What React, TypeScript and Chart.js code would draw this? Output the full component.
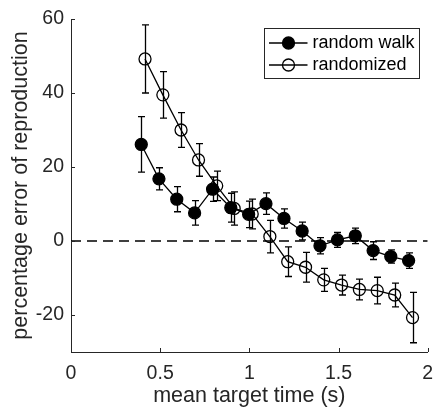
import React, { useEffect, useRef } from "react";
import { Chart, registerables } from "chart.js";

Chart.register(...registerables);

// ---- data ----
const walkX = [0.394, 0.493, 0.593, 0.693, 0.794, 0.896, 0.996, 1.093, 1.194, 1.296, 1.396, 1.494, 1.594, 1.694, 1.793, 1.893];
const walkY = [26.1, 16.8, 11.3, 7.6, 14.0, 9.0, 7.2, 10.1, 6.1, 2.7, -1.3, 0.3, 1.4, -2.6, -4.2, -5.3];
const walkErr = [7.5, 3.0, 3.4, 3.3, 3.3, 3.9, 3.6, 2.9, 2.6, 2.4, 2.2, 2.0, 2.1, 2.4, 1.8, 2.1];

const randX = [0.415, 0.515, 0.617, 0.715, 0.817, 0.915, 1.016, 1.115, 1.215, 1.315, 1.417, 1.517, 1.617, 1.717, 1.815, 1.915];
const randY = [49.2, 39.5, 30.0, 21.9, 14.9, 8.8, 7.3, 1.2, -5.6, -7.1, -10.5, -11.9, -13.1, -13.4, -14.6, -20.7];
const randErr = [9.2, 6.3, 4.7, 4.4, 4.0, 4.5, 4.0, 4.4, 4.0, 4.0, 3.1, 2.7, 2.8, 3.6, 3.2, 6.8];

const zeroLineX = [0, 2];
const zeroLineY = [0, 0];

const xTicks = [0, 0.5, 1, 1.5, 2];
const yTicks = [-20, 0, 20, 40, 60];
const xRange = [0, 2];
const yRange = [-30, 60];

const legendLabels = ["random walk", "randomized"];
const xTitle = "mean target time (s)";
const yTitle = "percentage error of reproduction";

const FONT = "'Liberation Sans', Arial, Helvetica, sans-serif";
const AX = "#262626";
const LW = 1.3;

export default function App() {
  const ref = useRef<HTMLCanvasElement>(null);

  useEffect(() => {
    if (!ref.current) return;

    const errorBars = {
      id: "errorBars",
      beforeDatasetsDraw(chart: any) {
        const { ctx, scales } = chart;
        const xs = scales.x;
        const ys = scales.y;
        ctx.save();
        ctx.strokeStyle = "#000";
        ctx.lineWidth = LW;
        chart.data.datasets.forEach((ds: any) => {
          if (!ds.errors) return;
          ds.data.forEach((p: any, i: number) => {
            const px = Math.round(xs.getPixelForValue(p.x)) + 0.5;
            const yt = ys.getPixelForValue(p.y + ds.errors[i]);
            const yb = ys.getPixelForValue(p.y - ds.errors[i]);
            ctx.beginPath();
            ctx.moveTo(px, yt);
            ctx.lineTo(px, yb);
            ctx.moveTo(px - 3.5, yt);
            ctx.lineTo(px + 3.5, yt);
            ctx.moveTo(px - 3.5, yb);
            ctx.lineTo(px + 3.5, yb);
            ctx.stroke();
          });
        });
        ctx.restore();
      },
    };

    const innerTicks = {
      id: "innerTicks",
      afterDraw(chart: any) {
        const { ctx, chartArea: a, scales } = chart;
        ctx.save();
        ctx.strokeStyle = AX;
        ctx.lineWidth = 1;
        ctx.beginPath();
        xTicks.forEach((v) => {
          const px = Math.round(scales.x.getPixelForValue(v)) + 0.5;
          ctx.moveTo(px, a.bottom);
          ctx.lineTo(px, a.bottom - 4);
        });
        yTicks.forEach((v) => {
          const py = Math.round(scales.y.getPixelForValue(v)) + 0.5;
          ctx.moveTo(a.left, py);
          ctx.lineTo(a.left + 4, py);
        });
        ctx.stroke();
        ctx.restore();
      },
    };

    const legendBox = {
      id: "legendBox",
      afterDraw(chart: any) {
        const { ctx, chartArea: a } = chart;
        const bw = 155;
        const bh = 50;
        const bx = Math.round(a.right - 9 - bw) + 0.5;
        const by = Math.round(a.top + 9) + 0.5;
        ctx.save();
        ctx.fillStyle = "#fff";
        ctx.fillRect(bx, by, bw, bh);
        ctx.strokeStyle = AX;
        ctx.lineWidth = 1;
        ctx.strokeRect(bx, by, bw, bh);
        const rows = [by + 14.5, by + 36.5];
        legendLabels.forEach((lab, i) => {
          const ry = rows[i];
          ctx.strokeStyle = "#000";
          ctx.lineWidth = LW;
          ctx.beginPath();
          ctx.moveTo(bx + 4.5, ry);
          ctx.lineTo(bx + 43, ry);
          ctx.stroke();
          ctx.beginPath();
          ctx.arc(bx + 24, ry, 6, 0, Math.PI * 2);
          if (i === 0) {
            ctx.fillStyle = "#000";
            ctx.fill();
          }
          ctx.stroke();
          ctx.fillStyle = "#000";
          ctx.font = `18px ${FONT}`;
          ctx.textBaseline = "middle";
          ctx.textAlign = "left";
          ctx.fillText(lab, bx + 48, ry + 0.5);
        });
        ctx.restore();
      },
    };

    const chart = new Chart(ref.current, {
      type: "scatter",
      data: {
        datasets: [
          {
            label: legendLabels[0],
            data: walkX.map((x, i) => ({ x, y: walkY[i] })),
            showLine: true,
            borderColor: "#000",
            borderWidth: LW,
            pointRadius: 6,
            pointBackgroundColor: "#000",
            pointBorderColor: "#000",
            pointBorderWidth: LW,
            errors: walkErr,
          } as any,
          {
            label: legendLabels[1],
            data: randX.map((x, i) => ({ x, y: randY[i] })),
            showLine: true,
            borderColor: "#000",
            borderWidth: LW,
            pointRadius: 6,
            pointBackgroundColor: "rgba(0,0,0,0)",
            pointBorderColor: "#000",
            pointBorderWidth: LW,
            errors: randErr,
          } as any,
          {
            label: "zero",
            data: zeroLineX.map((x, i) => ({ x, y: zeroLineY[i] })),
            showLine: true,
            borderColor: "#000",
            borderWidth: 1.4,
            borderDash: [10, 6],
            pointRadius: 0,
          } as any,
        ],
      },
      options: {
        animation: false,
        responsive: false,
        devicePixelRatio: 1,
        layout: { padding: { top: 19, right: 4, bottom: 0, left: 0 } },
        plugins: {
          legend: { display: false },
          tooltip: { enabled: false },
        },
        scales: {
          x: {
            type: "linear",
            min: xRange[0],
            max: xRange[1],
            afterBuildTicks: (s: any) => {
              s.ticks = xTicks.map((v) => ({ value: v }));
            },
            afterFit: (s: any) => {
              s.height = 59;
              s.paddingLeft = 0;
              s.paddingRight = 0;
            },
            grid: { display: false, drawTicks: false },
            border: { display: true, color: AX, width: 1 },
            ticks: {
              color: AX,
              font: { size: 19.5, family: FONT },
              padding: 10,
              maxRotation: 0,
              autoSkip: false,
              callback: (v: any) => String(v),
            },
            title: {
              display: true,
              text: xTitle,
              color: AX,
              font: { size: 21.5, family: FONT },
              padding: { top: 0, bottom: 2 },
            },
          },
          y: {
            type: "linear",
            min: yRange[0],
            max: yRange[1],
            afterBuildTicks: (s: any) => {
              s.ticks = yTicks.map((v) => ({ value: v }));
            },
            afterFit: (s: any) => {
              s.width = 71;
            },
            grid: { display: false, drawTicks: false },
            border: { display: true, color: AX, width: 1 },
            ticks: {
              color: AX,
              font: { size: 19.5, family: FONT },
              padding: 7,
              autoSkip: false,
              callback: (v: any) => String(v),
            },
            title: {
              display: true,
              text: yTitle,
              color: AX,
              font: { size: 21.5, family: FONT },
              padding: { top: 8, bottom: 0 },
            },
          },
        },
      },
      plugins: [errorBars, innerTicks, legendBox],
    } as any);

    return () => chart.destroy();
  }, []);

  return (
    <div style={{ position: "absolute", left: 0, top: 0, width: 435, height: 411, background: "#fff" }}>
      <canvas ref={ref} width={435} height={411} style={{ display: "block", width: 435, height: 411 }} />
    </div>
  );
}
